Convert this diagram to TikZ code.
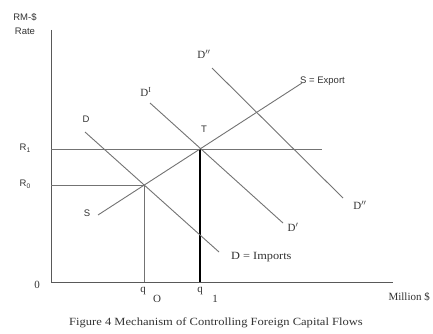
\documentclass[tikz,border=0pt]{standalone}
\usepackage{fontspec}
\setmainfont{Liberation Serif}
\newfontfamily\lsans{Liberation Sans}
\begin{document}
\begin{tikzpicture}[x=1pt,y=-1pt,
  gline/.style={draw=black!55,line width=0.9pt},
  axline/.style={draw=black!65,line width=1pt},
  serlab/.style={inner sep=0pt,font=\fontsize{11}{13}\selectfont,text=black!80},
  sanlab/.style={inner sep=0pt,font=\lsans\fontsize{9.5}{11}\selectfont,text=black!80}]
\useasboundingbox[fill=white] (0,0) rectangle (433,334);
% axes
\coordinate (top) at (51,30);
\coordinate (o) at (51,282);
\coordinate (xend) at (393,282);
\draw[axline] (top) -- (o) -- (xend);
% key points
\coordinate (E) at (144,185);
\coordinate (T) at (200,149);
\coordinate (R1a) at (51,149);
\coordinate (R1b) at (322,149);
\coordinate (R0a) at (51,185);
\coordinate (q0) at (144,282);
\coordinate (q1) at (200,282);
\draw[gline] (R1a) -- (R1b);
\draw[gline] (R0a) -- (E);
\draw[gline] (E) -- (q0);
\draw[black,line width=1.5pt] (T) -- (q1);
% D line
\coordinate (Da) at (85,132);
\coordinate (Db) at (219,252);
\draw[gline] (Da) -- (Db);
% S line
\coordinate (Sa) at (98,215);
\coordinate (Sb) at (302,83);
\draw[gline] (Sa) -- (Sb);
% D' line
\coordinate (D1a) at (150,103);
\coordinate (D1b) at (283,223);
\draw[gline] (D1a) -- (D1b);
% D'' line
\coordinate (D2a) at (212,68);
\coordinate (D2b) at (343,198);
\draw[gline] (D2a) -- (D2b);
% labels
\node[sanlab] (lrm) at (25,17) {RM-\$};
\node[sanlab] (lrate) at (25,31) {Rate};
\node[sanlab,anchor=east] (lr1) at (31,148) {R\textsubscript{1}};
\node[sanlab,anchor=east] (lr0) at (31,184) {R\textsubscript{0}};
\node[serlab] (lzero) at (37,285) {0};
\node[serlab] (lq0) at (143,291) {q};
\node[serlab] (lq0s) at (157,299) {O};
\node[serlab] (lq1) at (200,291) {q};
\node[serlab] (lq1s) at (215,299) {1};
\node[serlab,anchor=east] (lmil) at (430,297) {Million \$};
\node[sanlab] (lD) at (86,119) {D};
\node[sanlab] (lS) at (87,213) {S};
\node[sanlab] (lT) at (204,129) {T};
\node[sanlab,anchor=west] (lSE) at (300,81) {S = Export};
\node[serlab,anchor=west] (lDI) at (231,257) {\scalebox{1.12}[1]{D = Imports}};
\node[serlab] (lD1t) at (146,92) {D\textsuperscript{I}};
\node[serlab] (lD2t) at (204,54) {D$''$};
\node[serlab] (lD1b) at (293,227) {D$'$};
\node[serlab] (lD2b) at (360,205) {D$''$};
\node[serlab] (cap) at (216,323) {\scalebox{1.14}[1]{Figure 4 Mechanism of Controlling Foreign Capital Flows}};
\end{tikzpicture}
\end{document}
